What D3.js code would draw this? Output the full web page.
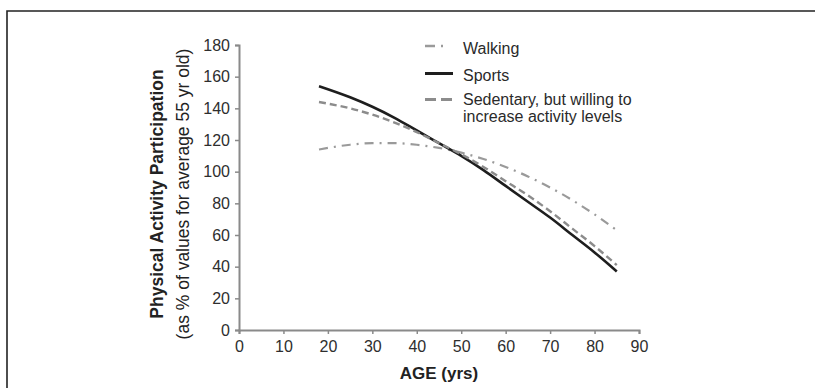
<!DOCTYPE html>
<html><head><meta charset="utf-8">
<script src="https://cdn.jsdelivr.net/npm/d3@7"></script>
<style>
html,body{margin:0;padding:0;background:#fff;}
svg{display:block;font-family:"Liberation Sans",Arial,sans-serif;}
</style></head><body>
<svg id="c" width="815" height="388"></svg>
<script>
const ages = [18,25,30,35,40,45,50,55,60,65,70,75,80,85];
const walking   = [114,117,118,118,117,115,112,108,103,97,90,82,73,63];
const sports    = [154,147,141,134,126,118,110,101,91,81,71,60,49,37];
const sedentary = [144,140,136,131,125,118,111,103,94,85,75,64,53,41];
const xTicks = [0,10,20,30,40,50,60,70,80,90];
const yTicks = [0,20,40,60,80,100,120,140,160,180];
const seriesNames = ["Walking","Sports","Sedentary, but willing to|increase activity levels"];

const svg = d3.select("#c");
// frame
svg.append("path").attr("d","M7,388 L7,11 L815,11").attr("fill","none").attr("stroke","#222").attr("stroke-width",1.6);

const x = d3.scaleLinear().domain([0,90]).range([239,639]);
const y = d3.scaleLinear().domain([0,180]).range([330,45]);

const axisColor = "#8a8a8a";
const gx = svg.append("g").attr("transform","translate(0,330)")
  .call(d3.axisBottom(x).tickValues(xTicks).tickSize(4).tickPadding(7));
const gy = svg.append("g").attr("transform","translate(239,0)")
  .call(d3.axisLeft(y).tickValues(yTicks).tickSize(4).tickPadding(5));
[gx,gy].forEach(g=>{
  g.select(".domain").attr("stroke",axisColor).attr("stroke-width",2);
  g.selectAll(".tick line").attr("stroke",axisColor).attr("stroke-width",1.5);
  g.selectAll(".tick text").attr("fill","#2e2e2e").attr("font-size",16)
    .attr("font-family","Liberation Sans, Arial, sans-serif");
});

const series = [
  {vals:walking, color:"#9a9a9a", dash:"9,6,2,6", legDash:"10,6,2,12", w:2.2},
  {vals:sports, color:"#1e1e1e", dash:null, legDash:null, w:2.6},
  {vals:sedentary, color:"#8c8c8c", dash:"7,4", legDash:"11,5", w:2.4}
];
const line = d3.line().x((d,i)=>x(ages[i])).y(d=>y(d)).curve(d3.curveMonotoneX);
series.forEach(s=>{
  svg.append("path").datum(s.vals).attr("d",line).attr("fill","none")
    .attr("stroke",s.color).attr("stroke-width",s.w)
    .attr("stroke-dasharray",s.dash);
});

// legend
const legY = [46,73.5,99.5];
const legBase = [53.5,80.5,104.5];
series.forEach((s,i)=>{
  svg.append("line").attr("x1",425).attr("x2",453).attr("y1",legY[i]).attr("y2",legY[i])
    .attr("stroke",s.color).attr("stroke-width",s.w+0.4).attr("stroke-dasharray",s.legDash);
  const lines = seriesNames[i].split("|");
  lines.forEach((t,j)=>{
    svg.append("text").attr("x",463).attr("y",legBase[i]+j*17.5).attr("font-size",16)
      .attr("fill","#2a2a2a").text(t);
  });
});

// axis titles
svg.append("text").attr("x",439).attr("y",379).attr("text-anchor","middle")
  .attr("font-size",17).attr("font-weight","bold").attr("fill","#222").text("AGE (yrs)");
svg.append("text").attr("transform","translate(163,194) rotate(-90)").attr("text-anchor","middle")
  .attr("font-size",17.5).attr("font-weight","bold").attr("fill","#222").text("Physical Activity Participation");
svg.append("text").attr("transform","translate(189,194) rotate(-90)").attr("text-anchor","middle")
  .attr("font-size",17.5).attr("fill","#222").text("(as % of values for average 55 yr old)");
</script>
</body></html>
